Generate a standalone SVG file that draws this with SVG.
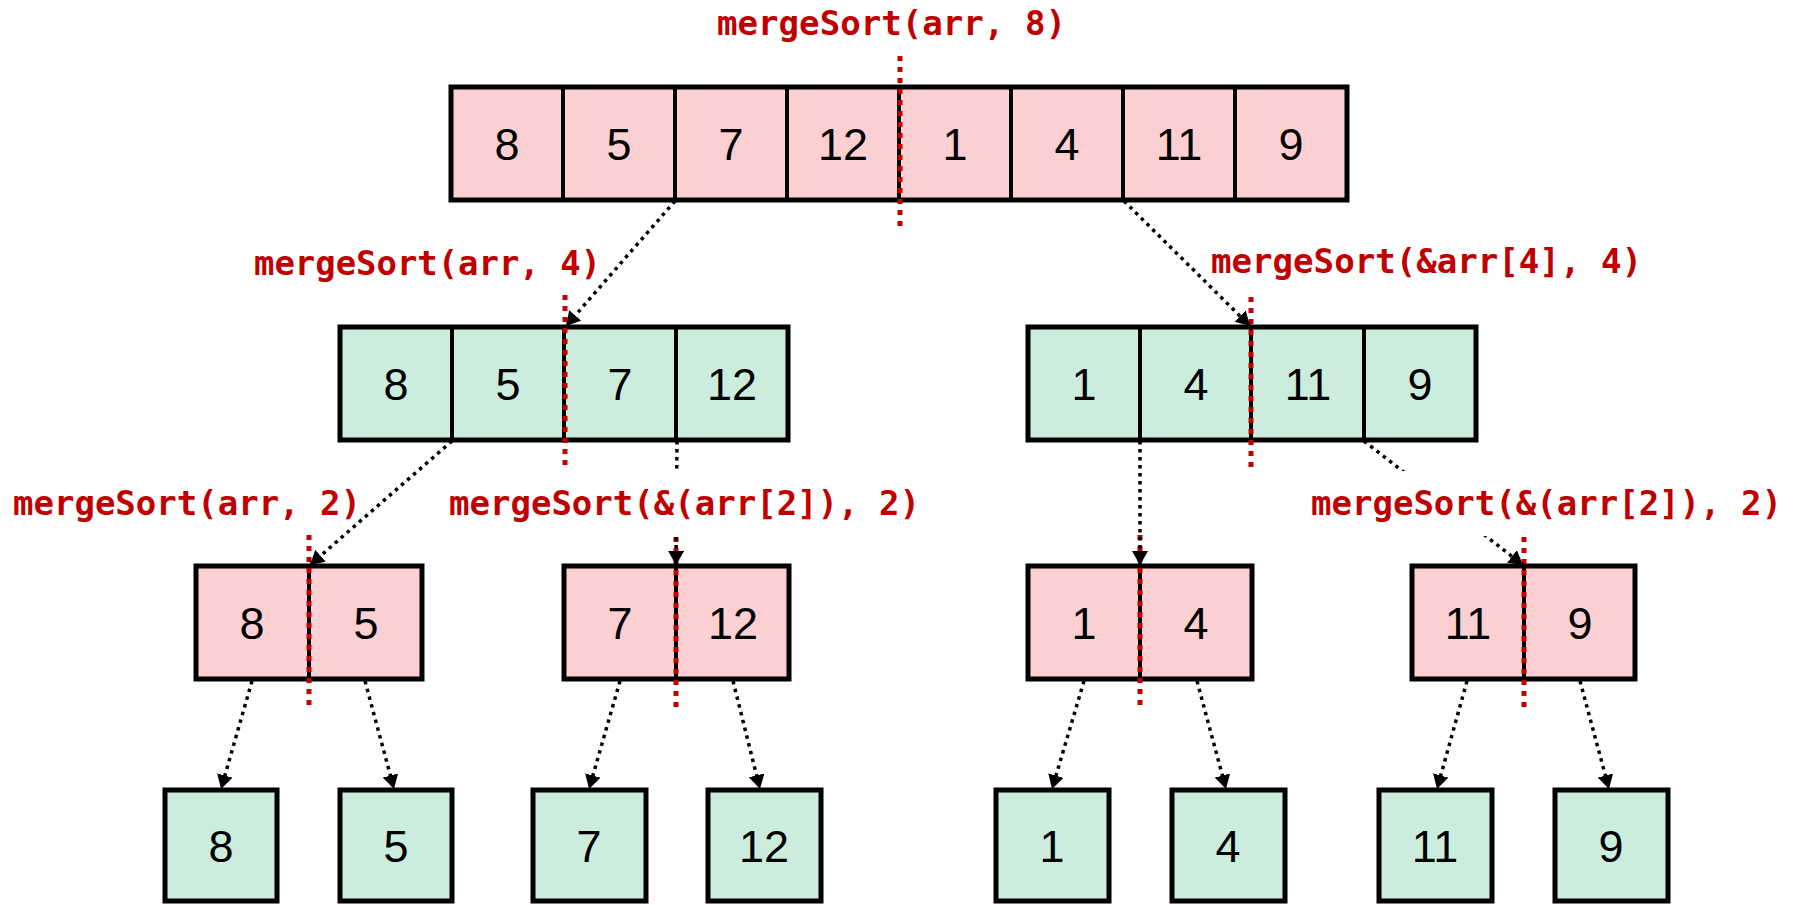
<svg xmlns="http://www.w3.org/2000/svg" width="1798" height="905" viewBox="0 0 1798 905">
  <style>
    .pink { fill: #FCD0D2; stroke: #000; stroke-width: 5; }
    .green { fill: #CCEDDE; stroke: #000; stroke-width: 5; }
    .div { stroke: #000; stroke-width: 4; }
    .num { font-family: "Liberation Sans", Arial, sans-serif; font-size: 45px; fill: #000; text-anchor: middle; }
    .call { font-family: "DejaVu Sans Mono", "Liberation Mono", monospace; font-weight: bold; font-size: 33px; fill: #C00000; }
    .split { stroke: #C00000; stroke-width: 5; stroke-dasharray: 5 6; fill: none; }
    .link { stroke: #000; stroke-width: 3.5; stroke-dasharray: 3.5 4.5; fill: none; marker-end: url(#head); }
    .bg { fill: #fff; }
  </style>
  <defs>
    <marker id="head" markerUnits="userSpaceOnUse" markerWidth="16" markerHeight="18" refX="14" refY="8" orient="auto">
      <path d="M0,0 L14,8 L0,16 z" fill="#000"/>
    </marker>
  </defs>

  <!-- level 0: full array -->
  <g id="arr8">
    <rect class="pink" x="451" y="87" width="896" height="113"/>
    <line class="div" x1="563" y1="87" x2="563" y2="200"/>
    <line class="div" x1="675" y1="87" x2="675" y2="200"/>
    <line class="div" x1="787" y1="87" x2="787" y2="200"/>
    <line class="div" x1="899" y1="87" x2="899" y2="200"/>
    <line class="div" x1="1011" y1="87" x2="1011" y2="200"/>
    <line class="div" x1="1123" y1="87" x2="1123" y2="200"/>
    <line class="div" x1="1235" y1="87" x2="1235" y2="200"/>
    <text class="num" x="507" y="160">8</text>
    <text class="num" x="619" y="160">5</text>
    <text class="num" x="731" y="160">7</text>
    <text class="num" x="843" y="160">12</text>
    <text class="num" x="955" y="160">1</text>
    <text class="num" x="1067" y="160">4</text>
    <text class="num" x="1179" y="160">11</text>
    <text class="num" x="1291" y="160">9</text>
  </g>

  <!-- level 1 -->
  <g id="left4">
    <rect class="green" x="340" y="327" width="448" height="113"/>
    <line class="div" x1="452" y1="327" x2="452" y2="440"/>
    <line class="div" x1="564" y1="327" x2="564" y2="440"/>
    <line class="div" x1="676" y1="327" x2="676" y2="440"/>
    <text class="num" x="396" y="400">8</text>
    <text class="num" x="508" y="400">5</text>
    <text class="num" x="620" y="400">7</text>
    <text class="num" x="732" y="400">12</text>
  </g>
  <g id="right4">
    <rect class="green" x="1028" y="327" width="448" height="113"/>
    <line class="div" x1="1140" y1="327" x2="1140" y2="440"/>
    <line class="div" x1="1251" y1="327" x2="1251" y2="440"/>
    <line class="div" x1="1364" y1="327" x2="1364" y2="440"/>
    <text class="num" x="1084" y="400">1</text>
    <text class="num" x="1196" y="400">4</text>
    <text class="num" x="1308" y="400">11</text>
    <text class="num" x="1420" y="400">9</text>
  </g>

  <!-- level 2 -->
  <g id="pair85">
    <rect class="pink" x="196" y="566" width="226" height="113"/>
    <line class="div" x1="309" y1="566" x2="309" y2="679"/>
    <text class="num" x="252" y="639">8</text>
    <text class="num" x="366" y="639">5</text>
  </g>
  <g id="pair712">
    <rect class="pink" x="564" y="566" width="225" height="113"/>
    <line class="div" x1="676" y1="566" x2="676" y2="679"/>
    <text class="num" x="620" y="639">7</text>
    <text class="num" x="733" y="639">12</text>
  </g>
  <g id="pair14">
    <rect class="pink" x="1028" y="566" width="224" height="113"/>
    <line class="div" x1="1140" y1="566" x2="1140" y2="679"/>
    <text class="num" x="1084" y="639">1</text>
    <text class="num" x="1196" y="639">4</text>
  </g>
  <g id="pair119">
    <rect class="pink" x="1412" y="566" width="223" height="113"/>
    <line class="div" x1="1524" y1="566" x2="1524" y2="679"/>
    <text class="num" x="1468" y="639">11</text>
    <text class="num" x="1580" y="639">9</text>
  </g>

  <!-- level 3: single elements -->
  <g id="leaf8"><rect class="green" x="165" y="790" width="112" height="111"/><text class="num" x="221" y="862">8</text></g>
  <g id="leaf5"><rect class="green" x="340" y="790" width="112" height="111"/><text class="num" x="396" y="862">5</text></g>
  <g id="leaf7"><rect class="green" x="533" y="790" width="113" height="111"/><text class="num" x="589" y="862">7</text></g>
  <g id="leaf12"><rect class="green" x="708" y="790" width="113" height="111"/><text class="num" x="764" y="862">12</text></g>
  <g id="leaf1"><rect class="green" x="996" y="790" width="113" height="111"/><text class="num" x="1052" y="862">1</text></g>
  <g id="leaf4"><rect class="green" x="1172" y="790" width="113" height="111"/><text class="num" x="1228" y="862">4</text></g>
  <g id="leaf11"><rect class="green" x="1379" y="790" width="113" height="111"/><text class="num" x="1435" y="862">11</text></g>
  <g id="leaf9"><rect class="green" x="1555" y="790" width="113" height="111"/><text class="num" x="1611" y="862">9</text></g>

  <!-- midpoint split markers -->
  <g id="splits">
    <line class="split" x1="900" y1="56" x2="900" y2="230"/>
    <line class="split" x1="565" y1="295" x2="565" y2="470"/>
    <line class="split" x1="1251" y1="297" x2="1251" y2="470"/>
    <line class="split" x1="309" y1="535" x2="309" y2="710"/>
    <line class="split" x1="676" y1="537" x2="676" y2="710"/>
    <line class="split" x1="1140" y1="535" x2="1140" y2="710"/>
    <line class="split" x1="1524" y1="537" x2="1524" y2="710"/>
  </g>

  <!-- recursive calls -->
  <g id="connectors">
    <line class="link" x1="675" y1="201" x2="566" y2="326"/>
    <line class="link" x1="1124" y1="201" x2="1250" y2="326"/>
    <line class="link" x1="452" y1="441" x2="310" y2="565"/>
    <line class="link" x1="677" y1="441" x2="676" y2="565"/>
    <line class="link" x1="1140" y1="441" x2="1140" y2="565"/>
    <line class="link" x1="1364" y1="441" x2="1523" y2="565"/>
    <line class="link" x1="252" y1="681" x2="221" y2="789"/>
    <line class="link" x1="365" y1="681" x2="394" y2="789"/>
    <line class="link" x1="620" y1="681" x2="589" y2="789"/>
    <line class="link" x1="733" y1="681" x2="760" y2="789"/>
    <line class="link" x1="1084" y1="681" x2="1052" y2="789"/>
    <line class="link" x1="1197" y1="681" x2="1226" y2="789"/>
    <line class="link" x1="1467" y1="681" x2="1437" y2="789"/>
    <line class="link" x1="1580" y1="681" x2="1609" y2="789"/>
  </g>

  <!-- call labels -->
  <g id="labels">
    <text class="call" x="717" y="35" textLength="349" lengthAdjust="spacingAndGlyphs">mergeSort(arr, 8)</text>
    <text class="call" x="254" y="275" textLength="347" lengthAdjust="spacingAndGlyphs">mergeSort(arr, 4)</text>
    <text class="call" x="1211" y="273" textLength="431" lengthAdjust="spacingAndGlyphs">mergeSort(&amp;arr[4], 4)</text>
    <text class="call" x="13" y="515" textLength="348" lengthAdjust="spacingAndGlyphs">mergeSort(arr, 2)</text>
    <rect class="bg" x="445" y="469" width="480" height="67"/>
    <text class="call" x="449" y="515" textLength="471" lengthAdjust="spacingAndGlyphs">mergeSort(&amp;(arr[2]), 2)</text>
    <rect class="bg" x="1305" y="471" width="485" height="65"/>
    <text class="call" x="1311" y="515" textLength="471" lengthAdjust="spacingAndGlyphs">mergeSort(&amp;(arr[2]), 2)</text>
  </g>
</svg>
